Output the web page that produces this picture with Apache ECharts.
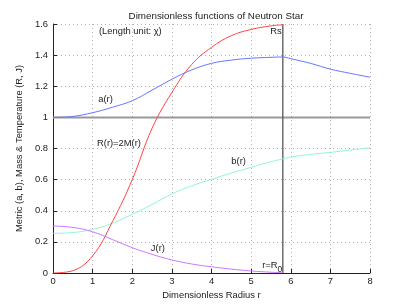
<!DOCTYPE html>
<html>
<head>
<meta charset="utf-8">
<script src="https://cdn.jsdelivr.net/npm/echarts@6/dist/echarts.min.js"></script>
<style>html,body{margin:0;padding:0;background:#fff}#c{width:409px;height:308px}</style>
</head>
<body>
<div id="c"></div>
<script>
const rFull = [0, 0.5, 1, 1.5, 2, 2.5, 3, 3.5, 4, 4.5, 5, 5.5, 5.8, 6, 6.5, 7, 7.5, 8];
const aValues = [1.0, 1.006, 1.03, 1.065, 1.107, 1.175, 1.245, 1.305, 1.347, 1.368, 1.38, 1.386, 1.388, 1.377, 1.347, 1.31, 1.283, 1.258];
const bValues = [0.255, 0.26, 0.28, 0.32, 0.377, 0.44, 0.508, 0.56, 0.602, 0.642, 0.679, 0.715, 0.733, 0.745, 0.762, 0.775, 0.79, 0.805];
const rStar = [0, 0.5, 1, 1.5, 2, 2.5, 3, 3.5, 4, 4.5, 5, 5.5, 5.8];
const RValues = [0, 0.015, 0.11, 0.33, 0.6, 0.93, 1.16, 1.34, 1.45, 1.525, 1.565, 1.588, 1.595];
const JValues = [0.302, 0.293, 0.265, 0.215, 0.163, 0.12, 0.084, 0.058, 0.04, 0.025, 0.013, 0.005, 0.002];
const surfaceR = 5.8;
const annotations = [
  {text: '(Length unit: χ)', r: 1.16, v: 1.55},
  {text: 'Rs', r: 5.48, v: 1.55},
  {text: 'a(r)', r: 1.14, v: 1.118},
  {text: 'R(r)=2M(r)', r: 1.11, v: 0.83},
  {text: 'b(r)', r: 4.5, v: 0.72},
  {text: 'J(r)', r: 2.47, v: 0.155},
  {text: '{m|r=R}{s|0}', r: 5.28, v: 0.05}
];

const pairs = (xs, ys) => xs.map((x, i) => [x, ys[i]]);
const FONT = 'Liberation Sans';
const FS = 9.4;
const chart = echarts.init(document.getElementById('c'), null, {renderer: 'canvas'});
const lineSeries = (name, xs, ys, color) => ({
  type: 'line', name, data: pairs(xs, ys), smooth: 0.4,
  symbol: 'none', lineStyle: {color, width: 1}
});
const option = {
  animation: false,
  backgroundColor: '#fff',
  textStyle: {fontFamily: FONT},
  title: {
    text: 'Dimensionless functions of Neutron Star',
    left: 211, top: 6, textAlign: 'center',
    textStyle: {fontSize: 9.8, fontWeight: 'normal', color: '#222', fontFamily: FONT}
  },
  grid: {left: 53, right: 39, top: 24, bottom: 35},
  xAxis: {
    type: 'value', min: 0, max: 8, interval: 1,
    name: 'Dimensionless Radius r', nameLocation: 'middle', nameGap: 18,
    nameTextStyle: {fontSize: FS, color: '#222', fontFamily: FONT},
    axisLine: {show: true, lineStyle: {color: '#222', width: 1}},
    axisTick: {show: true, inside: true, length: 4, lineStyle: {color: '#222'}},
    axisLabel: {fontSize: FS, color: '#222', margin: 4, formatter: v => String(v), fontFamily: FONT},
    splitLine: {show: true, lineStyle: {color: '#b0b0b0', type: [1, 3], width: 1}}
  },
  yAxis: {
    type: 'value', min: 0, max: 1.6, interval: 0.2,
    name: 'Metric (a, b), Mass & Temperature (R, J)', nameLocation: 'middle', nameGap: 21,
    nameTextStyle: {fontSize: FS, color: '#222', fontFamily: FONT},
    axisLine: {show: true, lineStyle: {color: '#222', width: 1}},
    axisTick: {show: true, inside: true, length: 4, lineStyle: {color: '#222'}},
    axisLabel: {fontSize: FS, color: '#222', margin: 5, formatter: v => String(+v.toFixed(1)), fontFamily: FONT},
    splitLine: {show: true, lineStyle: {color: '#b0b0b0', type: [1, 3], width: 1}}
  },
  series: [
    {type: 'line', data: [[0, 1], [8, 1]], symbol: 'none', lineStyle: {color: '#999', width: 2}, z: 3},
    {type: 'line', data: [[surfaceR, 0], [surfaceR, 1.6]], symbol: 'none', lineStyle: {color: '#555', width: 1.3}, z: 3},
    lineSeries('a', rFull, aValues, '#6677ff'),
    lineSeries('b', rFull, bValues, '#8ff5dc'),
    lineSeries('R', rStar, RValues, '#ff4444'),
    lineSeries('J', rStar, JValues, '#cc77ff')
  ]
};
chart.setOption(option);
const graphics = annotations.map(a => {
  const p = chart.convertToPixel({gridIndex: 0}, [a.r, a.v]);
  return {
    type: 'text', x: p[0], y: p[1], z: 10,
    style: {
      text: a.text, fill: '#222', font: FS + 'px ' + FONT,
      verticalAlign: 'middle', align: 'left',
      rich: {m: {fontSize: FS, fontFamily: FONT, fill: '#222'}, s: {fontSize: 8.5, fontFamily: FONT, fill: '#222', padding: [8, 0, 0, 0]}}
    }
  };
});
chart.setOption({graphic: graphics});
</script>
</body>
</html>
